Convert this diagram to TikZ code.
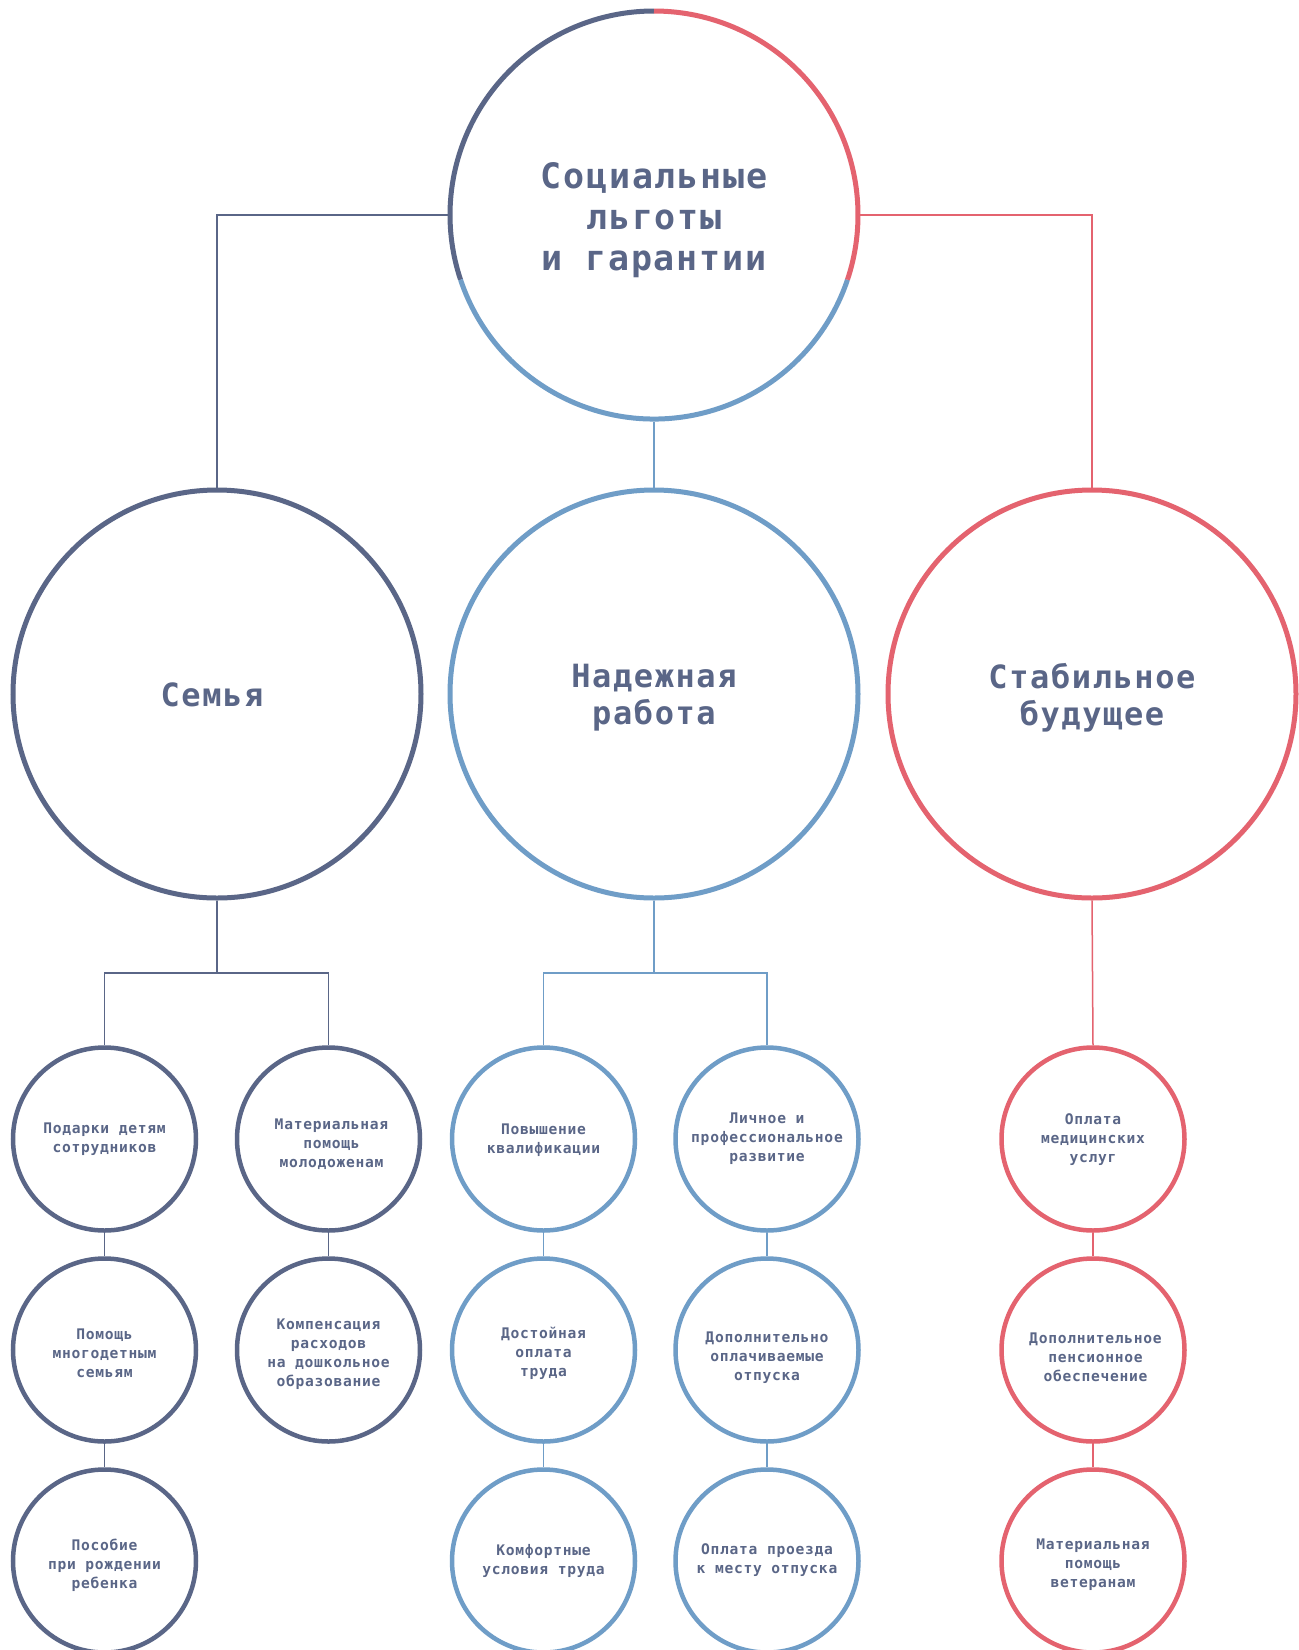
\documentclass[tikz,border=0pt]{standalone}
\usepackage{fontspec}
\newfontfamily\mono{DejaVu Sans Mono}[LetterSpace=5]
\definecolor{cdark}{HTML}{5A6687}
\definecolor{cblue}{HTML}{6F9DC7}
\definecolor{cred}{HTML}{E4636F}
\begin{document}
\begin{tikzpicture}[x=1pt,y=-1pt,
  bigc/.style={circle, minimum size=408pt, inner sep=0pt, line width=5pt},
  smallc/.style={circle, minimum size=183pt, inner sep=0pt, line width=4.5pt},
  titlet/.style={align=center, inner sep=0pt, text=cdark, font=\mono\bfseries\fontsize{35}{41}\selectfont},
  bigt/.style={align=center, inner sep=0pt, text=cdark, font=\mono\bfseries\fontsize{32}{37}\selectfont},
  smallt/.style={align=center, inner sep=0pt, text=cdark, font=\mono\bfseries\fontsize{14.6}{19}\selectfont},
  link/.style={line width=1.5pt},
  ring/.style={line width=5pt}
]
\fill[white] (0,0) rectangle (1299,1650);
\clip (0,0) rectangle (1299,1650);

% top circle
\node[bigc, draw=none] (top) at (654,215) {};
\draw[ring, cdark] (top.center) ++(270:204) arc[start angle=270, end angle=161.5, radius=204];
\draw[ring, cblue] (top.center) ++(161.5:204) arc[start angle=161.5, end angle=18.5, radius=204];
\draw[ring, cred] (top.center) ++(18.5:204) arc[start angle=18.5, end angle=-90, radius=204];
\node[titlet] (topt) at ([shift={(0,5.3)}]top.center) {Социальные\\льготы\\и гарантии};

% level 2
\node[bigc, draw=cdark] (fam) at (217,694) {};
\node[bigc, draw=cblue] (job) at (654,694) {};
\node[bigc, draw=cred] (fut) at (1092,694) {};
\node[bigt] (famt) at ([shift={(-5,1)}]fam.center) {Семья};
\node[bigt] (jobt) at ([shift={(0,3.6)}]job.center) {Надежная\\работа};
\node[bigt] (futt) at ([shift={(0,3.4)}]fut.center) {Стабильное\\будущее};

\coordinate (tl) at (217,215);
\coordinate (tr) at (1092,215);
\draw[link, cdark] ([xshift=2.5pt]top.west) -- (tl) -- (fam.north);
\draw[link, cred] ([xshift=-2.5pt]top.east) -- (tr) -- (fut.north);
\draw[link, cblue] (top.south) -- (job.north);

% small circles: family
\node[smallc, draw=cdark] (f11) at (104.5,1139) {};
\node[smallc, draw=cdark] (f21) at (104.5,1350) {};
\node[smallc, draw=cdark] (f31) at (104.5,1561) {};
\node[smallc, draw=cdark] (f12) at (328.5,1139) {};
\node[smallc, draw=cdark] (f22) at (328.5,1350) {};
\node[smallt] (f11t) at ([shift={(0,0.5)}]f11.center) {Подарки детям\\сотрудников};
\node[smallt] (f21t) at ([shift={(0,3.5)}]f21.center) {Помощь\\многодетным\\семьям};
\node[smallt] (f31t) at ([shift={(0,4)}]f31.center) {Пособие\\при рождении\\ребенка};
\node[smallt] (f12t) at ([shift={(3,5.5)}]f12.center) {Материальная\\помощь\\молодоженам};
\node[smallt] (f22t) at ([shift={(0,4.5)}]f22.center) {Компенсация\\расходов\\на дошкольное\\образование};

% small circles: job
\node[smallc, draw=cblue] (j11) at (543.5,1139) {};
\node[smallc, draw=cblue] (j21) at (543.5,1350) {};
\node[smallc, draw=cblue] (j31) at (543.5,1561) {};
\node[smallc, draw=cblue] (j12) at (767,1139) {};
\node[smallc, draw=cblue] (j22) at (767,1350) {};
\node[smallc, draw=cblue] (j32) at (767,1561) {};
\node[smallt] (j11t) at ([shift={(0,1)}]j11.center) {Повышение\\квалификации};
\node[smallt] (j21t) at ([shift={(0,3.5)}]j21.center) {Достойная\\оплата\\труда};
\node[smallt] (j31t) at ([shift={(0,-0.5)}]j31.center) {Комфортные\\условия труда};
\node[smallt] (j12t) at ([shift={(0,0)}]j12.center) {Личное и\\профессиональное\\развитие};
\node[smallt] (j22t) at ([shift={(0,7.5)}]j22.center) {Дополнительно\\оплачиваемые\\отпуска};
\node[smallt] (j32t) at ([shift={(0,-0.5)}]j32.center) {Оплата проезда\\к месту отпуска};

% small circles: future
\node[smallc, draw=cred] (u1) at (1093,1139) {};
\node[smallc, draw=cred] (u2) at (1093,1350) {};
\node[smallc, draw=cred] (u3) at (1093,1561) {};
\node[smallt] (u1t) at ([shift={(0,0.5)}]u1.center) {Оплата\\медицинских\\услуг};
\node[smallt] (u2t) at ([shift={(2.5,7.5)}]u2.center) {Дополнительное\\пенсионное\\обеспечение};
\node[smallt] (u3t) at ([shift={(0,3.5)}]u3.center) {Материальная\\помощь\\ветеранам};

% connectors level 2 -> 3
\coordinate (fj) at (217,973);
\coordinate (jj) at (654,973);
\draw[link, cdark] (fam.south) -- (fj);
\draw[link, cdark] (f11.north) |- (fj) -| (f12.north);
\draw[link, cblue] (job.south) -- (jj);
\draw[link, cblue] (j11.north) |- (jj) -| (j12.north);
\draw[link, cred] (fut.south) -- (u1.north);

% vertical chains
\draw[link, cdark] (f11.south) -- (f21.north);
\draw[link, cdark] (f21.south) -- (f31.north);
\draw[link, cdark] (f12.south) -- (f22.north);
\draw[link, cblue] (j11.south) -- (j21.north);
\draw[link, cblue] (j21.south) -- (j31.north);
\draw[link, cblue] (j12.south) -- (j22.north);
\draw[link, cblue] (j22.south) -- (j32.north);
\draw[link, cred] (u1.south) -- (u2.north);
\draw[link, cred] (u2.south) -- (u3.north);
\end{tikzpicture}
\end{document}
